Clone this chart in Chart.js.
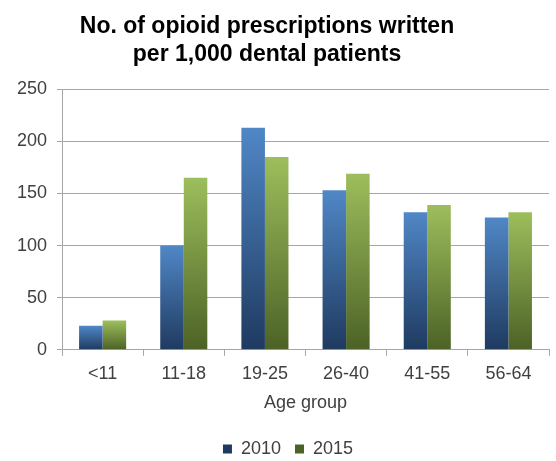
<!DOCTYPE html>
<html><head><meta charset="utf-8">
<script src="https://cdn.jsdelivr.net/npm/chart.js@4/dist/chart.umd.min.js"></script>
<style>html,body{margin:0;padding:0;background:#fff;}#wrap{width:556px;height:461px;position:relative;}</style>
</head><body><div id="wrap"><canvas id="c" width="556" height="461"></canvas></div>
<script>
const categories = ["<11", "11-18", "19-25", "26-40", "41-55", "56-64"];
const values2010 = [23, 100, 213, 153, 132, 127];
const values2015 = [28, 165, 185, 169, 139, 132];
const yTicks = [0, 50, 100, 150, 200, 250];

function grad(top, bottom, solid) {
  return function(ctx) {
    const chart = ctx.chart;
    if (!chart.chartArea || ctx.dataIndex === undefined || !chart.scales.y) return solid;
    const v = ctx.dataset.data[ctx.dataIndex];
    const y = chart.scales.y;
    const y1 = y.getPixelForValue(v), y0 = y.getPixelForValue(0);
    if (!isFinite(y1) || !isFinite(y0) || y1 === y0) return solid;
    const g = chart.ctx.createLinearGradient(0, y1, 0, y0);
    g.addColorStop(0, top);
    g.addColorStop(1, bottom);
    return g;
  };
}

const blockShift = {
  id: 'blockShift',
  afterLayout(chart) {
    const t = chart.titleBlock;
    if (t) { t.left -= 11; t.right -= 11; }
    const l = chart.legend;
    if (l) { l.left += 10; l.right += 10; l.top -= 2; l.bottom -= 2; }
  }
};

const font = "'Liberation Sans', Arial, sans-serif";
new Chart(document.getElementById('c'), {
  type: 'bar',
  data: {
    labels: categories,
    datasets: [
      { label: '2010', data: values2010, backgroundColor: grad('#5087c6', '#1f3a60', '#4F81BD'), borderWidth: 0 },
      { label: '2015', data: values2015, backgroundColor: grad('#9dbe5c', '#4c6226', '#9BBB59'), borderWidth: 0 }
    ]
  },
  plugins: [blockShift],
  options: {
    responsive: false,
    animation: false,
    devicePixelRatio: 1,
    layout: { padding: { left: 7, right: 7, top: 0, bottom: -9 } },
    datasets: { bar: { categoryPercentage: 0.58, barPercentage: 1.0 } },
    plugins: {
      title: {
        display: true,
        text: ['No. of opioid prescriptions written', 'per 1,000 dental patients'],
        color: '#000',
        font: { family: font, size: 23, weight: 'bold', lineHeight: 1.2 },
        padding: { top: 13, bottom: 21 }
      },
      legend: {
        position: 'bottom',
        labels: { color: '#404040', boxWidth: 9, boxHeight: 9, font: { family: font, size: 18 }, padding: 14 }
      },
      tooltip: { enabled: false }
    },
    scales: {
      x: {
        grid: { display: true, drawOnChartArea: false, drawTicks: true, tickLength: 6, color: '#a6a6a6', offset: true },
        border: { color: '#a6a6a6' },
        ticks: { color: '#404040', font: { family: font, size: 18 }, padding: 7 },
        title: { display: true, text: 'Age group', color: '#404040', font: { family: font, size: 18 }, padding: { top: 1, bottom: 14 } }
      },
      y: {
        min: 0, max: 250,
        afterBuildTicks: (s) => { s.ticks = yTicks.map(v => ({ value: v })); },
        grid: { color: '#a6a6a6', tickLength: 5 },
        border: { color: '#a6a6a6' },
        ticks: { color: '#404040', font: { family: font, size: 18 }, padding: 10 }
      }
    }
  }
});
</script></body></html>
